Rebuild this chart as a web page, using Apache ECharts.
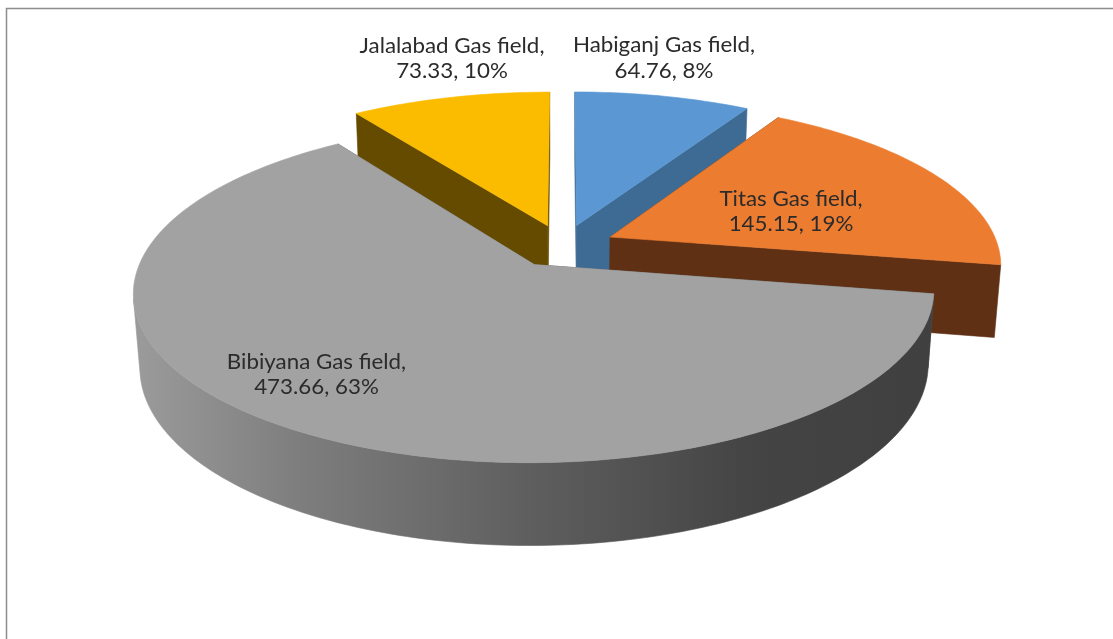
<!DOCTYPE html>
<html><head><meta charset="utf-8">
<style>html,body{margin:0;padding:0;background:#fff}#c{width:1113px;height:639px}</style>
<script src="https://cdn.jsdelivr.net/npm/echarts@6/dist/echarts.min.js"></script>
</head><body><div id="c"></div>
<script>
const categories = ['Habiganj Gas field','Titas Gas field','Bibiyana Gas field','Jalalabad Gas field'];
const values = [64.76,145.15,473.66,73.33];
const percentLabels = ['8%','19%','63%','10%'];

const topColors = ['#5B98D3','#EC7C30','#A2A2A2','#FBBC00'];
const sideColors = ['#3E6B94','#5F3014','#424242','#654B00'];
const labelX = [664,791,316.5,452];
const labelY = [58.5,212,375,59];

const cam = {cx:563, cy:246, a:388, b:160.5, k:0.157, h:0.206, explode:0.135};
const sinP = cam.b/cam.a, cosP = Math.sqrt(1-sinP*sinP), D = cosP/cam.k, f = cam.a*D;
function project(u,v,z){
  const d = D + v*cosP - z*sinP;
  return [cam.cx + f*u/d, cam.cy - f*(v*sinP + z*cosP)/d];
}
const total = values.reduce((s,x)=>s+x,0);
const starts = []; { let acc=0; values.forEach(x=>{starts.push(acc/total*2*Math.PI); acc+=x;}); }
const wallGrad = new echarts.graphic.LinearGradient(140,0,925,0,[
  {offset:0,color:'#9A9A9A'},{offset:0.2,color:'#7E7E7E'},{offset:0.5,color:'#5E5E5E'},
  {offset:0.78,color:'#444444'},{offset:1,color:'#404040'}],true);

function area(p){let s=0;for(let i=0;i<p.length;i++){const q=p[(i+1)%p.length];s+=p[i][0]*q[1]-q[0]*p[i][1];}return s/2;}

function renderItem(params,api){
  const i = params.dataIndex, val = api.value(0);
  const t0 = starts[i], t1 = t0 + val/total*2*Math.PI, mid=(t0+t1)/2;
  const ou = cam.explode*Math.sin(mid), ov = cam.explode*Math.cos(mid);
  const z0 = Math.round((1-Math.cos(mid))*100)*10;
  const P=(t,r,z)=>project(ou+r*Math.sin(t),ov+r*Math.cos(t),z);
  const n = Math.max(4,Math.ceil((t1-t0)/(Math.PI/180)));
  const ts=[];for(let j=0;j<=n;j++)ts.push(t0+(t1-t0)*j/n);
  const sideFill = i===2 ? wallGrad : sideColors[i];
  const kids=[];
  const poly=(pts,fill,z2)=>kids.push({type:'polygon',shape:{points:pts},z2:z2,silent:true,
     style:{fill:fill,stroke:fill,lineWidth:0.6}});
  // radial cut faces
  [t0,t1].forEach(t=>{
    poly([P(t,0,0),P(t,1,0),P(t,1,-cam.h),P(t,0,-cam.h)], i===2?'#5a5a5a':sideColors[i], z0+1);
  });
  // outer wall: only the part facing the viewer
  const front=[];
  for(let j=0;j<n;j++){
    const q=[P(ts[j],1,0),P(ts[j+1],1,0),P(ts[j+1],1,-cam.h),P(ts[j],1,-cam.h)];
    if(area(q)<0){ if(!front.length||front[front.length-1]!==ts[j]) front.push(ts[j]); front.push(ts[j+1]); }
  }
  if(front.length>1){
    poly(front.map(t=>P(t,1,0)).concat(front.slice().reverse().map(t=>P(t,1,-cam.h))),sideFill,z0+2);
  }
  // top surface
  poly([P(0,0,0)].concat(ts.map(t=>P(t,1,0))),topColors[i],z0+3);
  // label
  kids.push({type:'text',z2:9000,silent:true,x:labelX[i],y:labelY[i],scaleX:1.09,
    style:{text:categories[i]+',\n'+val+', '+percentLabels[i],fill:'#2b2b2b',
      font:'20.5px Lato',align:'center',verticalAlign:'middle',lineHeight:25.5}});
  return {type:'group',children:kids};
}

const chart = echarts.init(document.getElementById('c'),null,{renderer:'canvas'});
chart.setOption({
  animation:false,
  backgroundColor:'#fff',
  graphic:[{type:'polyline',silent:true,shape:{points:[[6.5,639],[6.5,8.5],[1113,8.5]]},style:{stroke:'#8c8c8c',lineWidth:1.5,fill:null}}],
  series:[{type:'custom',coordinateSystem:'none',renderItem:renderItem,
    data:values.map((v,i)=>({name:categories[i],value:[v]}))}]
});
</script></body></html>
